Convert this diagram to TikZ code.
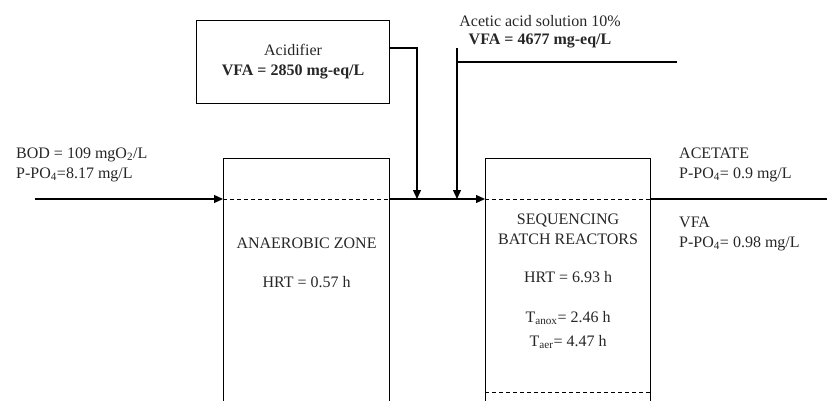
\documentclass[tikz,border=0pt]{standalone}
\usepackage{fontspec}
\setmainfont{Liberation Serif}
\usetikzlibrary{arrows.meta, positioning, calc}

\begin{document}
\begin{tikzpicture}[x=1pt, y=-1pt,
  tank/.style={draw, rectangle, line width=1.1pt, anchor=north west,
               minimum width=166pt, minimum height=260pt},
  dosebox/.style={draw, rectangle, line width=1.1pt, anchor=north west,
                  minimum width=193pt, minimum height=83pt,
                  align=center, font=\fontsize{16}{20}\selectfont, text=black!85},
  lbl/.style={font=\fontsize{16}{20}\selectfont, text=black!85, inner sep=0pt},
  arr/.style={-{Triangle[length=9pt,width=8pt]}, line width=1.2pt},
  flow/.style={line width=1.2pt},
  sep/.style={dash pattern=on 4pt off 3pt, line width=0.9pt},
]
\clip (0,0) rectangle (827,401);

%% Reactors (open at the bottom)
\node[tank] (anz) at (223,158) {};
\node[tank, minimum width=165pt] (sbr) at (485,158) {};
\node[dosebox] (acid) at (196,20)
  {Acidifier\\\textbf{VFA = 2850 mg-eq/L}};

%% Stream points
\coordinate (feed) at (35,199);
\coordinate (out) at (836,199);
\coordinate (dose1) at (417,199);
\coordinate (dose2) at (457,199);
\coordinate (acet) at (457,48);
\coordinate (acetend) at (677,62);
\coordinate (acidout) at ($(acid.north east)+(0,28)$);

%% Main line
\draw[arr] (feed) -- (feed -| anz.west);
\draw[arr] (feed -| anz.east) -- (feed -| sbr.west);
\draw[arr] (feed -| sbr.east) -- (out);

%% Dosing lines
\draw[arr] (acidout) -| (dose1);
\draw[flow] (acetend) -- (acet |- acetend);
\draw[arr] (acet) -- (dose2);

%% Separators
\draw[sep] (feed -| anz.west) -- (feed -| anz.east);
\draw[sep] (feed -| sbr.west) -- (feed -| sbr.east);
\draw[sep] (sbr.west |- 0,392) -- (sbr.east |- 0,392);

%% Influent
\node[lbl, anchor=base west] (bod) at (16,158) {BOD = 109 mgO\textsubscript{2}/L};
\node[lbl, anchor=base west] (pin) at (16,178) {P-PO\textsubscript{4}=8.17 mg/L};

%% Acetic acid dose
\node[lbl, anchor=base] (acetname) at (540,27) {Acetic acid solution 10\%};
\node[lbl, anchor=base] (acetvfa) at (540,45) {\textbf{VFA = 4677 mg-eq/L}};

%% Anaerobic zone
\node[lbl, anchor=base] (anzname) at (anz.north |- 0,248) {ANAEROBIC ZONE};
\node[lbl, anchor=base] (anzhrt) at (anz.north |- 0,287) {HRT = 0.57 h};

%% SBR
\node[lbl, anchor=base] (sbrname1) at (sbr.north |- 0,224) {SEQUENCING};
\node[lbl, anchor=base] (sbrname2) at (sbr.north |- 0,244) {BATCH REACTORS};
\node[lbl, anchor=base] (sbrhrt) at (sbr.north |- 0,282) {HRT = 6.93 h};
\node[lbl, anchor=base] (sbranox) at (sbr.north |- 0,322) {T\textsubscript{anox}= 2.46 h};
\node[lbl, anchor=base] (sbraer) at (sbr.north |- 0,346) {T\textsubscript{aer}= 4.47 h};

%% Effluent
\node[lbl, anchor=base west] (acetate) at (679,158) {ACETATE};
\node[lbl, anchor=base west] (pacet) at (679,178) {P-PO\textsubscript{4}= 0.9 mg/L};
\node[lbl, anchor=base west] (vfa) at (679,227) {VFA};
\node[lbl, anchor=base west] (pvfa) at (679,247) {P-PO\textsubscript{4}= 0.98 mg/L};
\end{tikzpicture}
\end{document}
